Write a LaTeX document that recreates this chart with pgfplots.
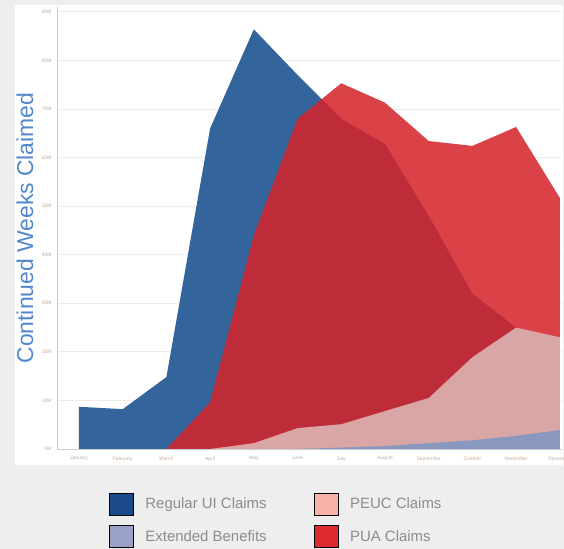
\documentclass[border=0pt]{standalone}
\usepackage{fontspec}
\setmainfont{Liberation Sans}
\usepackage{pgfplots}
\pgfplotsset{compat=1.18}
\definecolor{bggrey}{RGB}{238,238,238}
\definecolor{uiarea}{RGB}{51,101,156}
\definecolor{puaarea}{RGB}{214,35,43}
\definecolor{peucarea}{RGB}{218,165,165}
\definecolor{ebarea}{RGB}{138,152,192}
\definecolor{uileg}{RGB}{26,74,138}
\definecolor{peucleg}{RGB}{247,179,167}
\definecolor{ebleg}{RGB}{155,160,200}
\definecolor{pualeg}{RGB}{220,42,46}
\definecolor{labelblue}{RGB}{82,135,205}
\definecolor{tickc}{RGB}{195,172,158}
\definecolor{gridc}{RGB}{236,236,236}
\definecolor{axisc}{RGB}{205,205,205}
\definecolor{legtext}{RGB}{140,140,140}
\begin{document}
\begin{tikzpicture}[x=1bp,y=1bp]
\useasboundingbox (0,0) rectangle (564,549);
\clip (0,0) rectangle (564,549);
\fill[bggrey] (0,0) rectangle (564,549);
\fill[white] (15,84) rectangle (563,544);
\begin{axis}[
  at={(57bp,100bp)}, anchor=south west,
  scale only axis, width=505bp, height=442bp,
  xmin=-0.503, xmax=11.05, ymin=0, ymax=91,
  axis x line*=bottom, axis y line*=left,
  axis line style={draw=axisc, line width=0.8bp, -},
  major tick length=0pt,
  ytick={0,10,...,90},
  yticklabel={\pgfmathprintnumber{\tick}M},
  xtick={0,...,11},
  xticklabels={January,February,March,April,May,June,July,August,September,October,November,December},
  /pgf/number format/assume math mode=true,
  ticklabel style={font=\fontsize{5}{6}\selectfont, text=tickc},
  xticklabel style={yshift=-4bp},
  yticklabel style={xshift=-2bp},
  ymajorgrids, grid style={draw=gridc, line width=0.8bp},
  ylabel={Continued Weeks Claimed},
  ylabel style={font=\fontsize{23}{26}\selectfont, text=labelblue, at={(axis description cs:-0.0634,0.5)}, anchor=center},
  legend columns=2,
  legend cell align=left,
  legend image code/.code={\fill[#1] (0bp,-11bp) rectangle (24bp,11bp);},
  legend style={at={(0.103,-0.0995)}, anchor=north west, draw=none, fill=none,
    inner sep=0pt, outer sep=0pt, row sep=10bp,
    font=\fontsize{15}{18}\selectfont, text=legtext,
    nodes={inner sep=0pt},
    /tikz/every odd column/.append style={column sep=12bp},
    /tikz/every even column/.append style={column sep=47bp}},
]
% Regular UI Claims
\addplot[fill=uiarea, draw=none, forget plot] coordinates {
(0,8.7) (1,8.2) (2,14.8) (3,66) (4,86.4) (5,77) (6,68) (7,62.8) (8,48) (9,32) (10,25) (11,21)
} \closedcycle;
% PUA Claims
\addplot[fill=puaarea, fill opacity=0.86, draw=none, forget plot] coordinates {
(2,0) (3,9.6) (4,44) (5,68) (6,75.3) (7,71.3) (8,63.4) (9,62.4) (10,66.3) (11,51.7)
} \closedcycle;
% PEUC Claims
\addplot[fill=peucarea, draw=none, forget plot] coordinates {
(3,0) (4,1.2) (5,4.3) (6,5.1) (7,7.8) (8,10.5) (9,18.9) (10,25) (11,23)
} \closedcycle;
% Extended Benefits
\addplot[fill=ebarea, draw=none, forget plot] coordinates {
(5,0) (6,0.3) (7,0.6) (8,1.2) (9,1.8) (10,2.7) (11,3.9)
} \closedcycle;
\addlegendimage{fill=uileg}
\addlegendentry{Regular UI Claims}
\addlegendimage{fill=peucleg}
\addlegendentry{PEUC Claims}
\addlegendimage{fill=ebleg}
\addlegendentry{Extended Benefits}
\addlegendimage{fill=pualeg}
\addlegendentry{PUA Claims}
\end{axis}
\end{tikzpicture}
\end{document}
